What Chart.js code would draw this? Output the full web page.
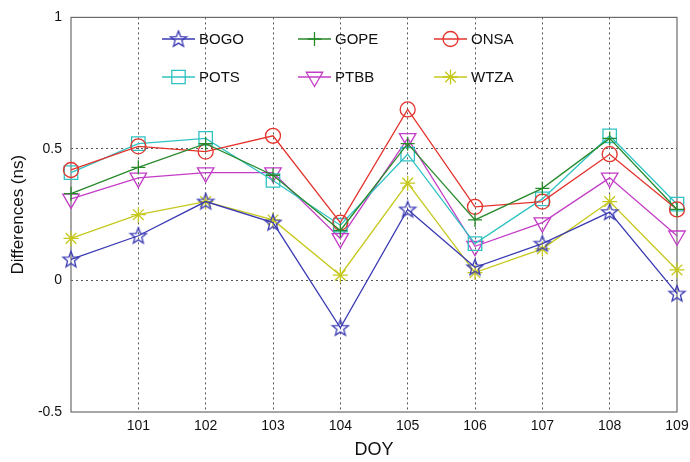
<!DOCTYPE html>
<html>
<head>
<meta charset="utf-8">
<script src="https://cdn.jsdelivr.net/npm/chart.js@4/dist/chart.umd.min.js"></script>
<style>
  html, body { margin: 0; padding: 0; background: #fff; }
  #wrap { width: 690px; height: 462px; }
</style>
</head>
<body>
<div id="wrap"><canvas id="myChart" width="690" height="462"></canvas></div>
<script>
// day of year on the x axis
var doy = [100, 101, 102, 103, 104, 105, 106, 107, 108, 109];

// differences in ns
var bogo = [0.08, 0.17, 0.30, 0.22, -0.18, 0.27, 0.05, 0.14, 0.26, -0.05];
var gope = [0.33, 0.43, 0.52, 0.40, 0.19, 0.52, 0.23, 0.35, 0.54, 0.27];
var onsa = [0.42, 0.51, 0.49, 0.55, 0.22, 0.65, 0.28, 0.30, 0.48, 0.27];
var pots = [0.41, 0.52, 0.54, 0.38, 0.21, 0.48, 0.14, 0.31, 0.55, 0.29];
var ptbb = [0.31, 0.39, 0.41, 0.41, 0.16, 0.54, 0.13, 0.22, 0.39, 0.17];
var wtza = [0.16, 0.25, 0.30, 0.23, 0.02, 0.37, 0.03, 0.12, 0.30, 0.04];

var yTicks = [-0.5, 0, 0.5, 1];
var FONT = 'Liberation Sans, Arial, sans-serif';

// pentagram marker (matlab 'p')
function makePentagram(color) {
  var c = document.createElement('canvas');
  c.width = 20; c.height = 20;
  var g = c.getContext('2d');
  g.strokeStyle = color;
  g.lineWidth = 1.3;
  g.beginPath();
  for (var i = 0; i < 10; i++) {
    var r = (i % 2 === 0) ? 8.5 : 3.6;
    var a = -Math.PI / 2 + i * Math.PI / 5;
    var px = 10 + r * Math.cos(a), py = 10.5 + r * Math.sin(a);
    if (i === 0) g.moveTo(px, py); else g.lineTo(px, py);
  }
  g.closePath();
  g.stroke();
  return c;
}

function pts(arr) {
  return doy.map(function (d, i) { return { x: d, y: arr[i] }; });
}

function series(label, arr, color, style, radius, rotation) {
  return {
    label: label,
    data: pts(arr),
    borderColor: color,
    backgroundColor: 'rgba(0,0,0,0)',
    borderWidth: 1.3,
    pointStyle: style,
    pointRadius: radius,
    pointHoverRadius: radius,
    pointRotation: rotation || 0,
    pointBorderColor: color,
    pointBackgroundColor: 'rgba(0,0,0,0)',
    pointBorderWidth: 1.3,
    tension: 0,
    clip: false
  };
}

var datasets = [
  series('BOGO', bogo, '#3a3ab4', makePentagram('#3a3ab4'), 9),
  series('GOPE', gope, '#26892a', 'cross', 7),
  series('ONSA', onsa, '#e4332c', 'circle', 7.5),
  series('POTS', pots, '#30c2c2', 'rect', 9.5),
  series('PTBB', ptbb, '#c33cc6', 'triangle', 9.5, 180),
  series('WTZA', wtza, '#c6c81c', 'star', 7.5)
];

// legend inside the axes, 3 columns x 2 rows
var legendCols = [162, 298, 434];
var legendRows = [39, 77];

var framePlugin = {
  id: 'frame',
  beforeDraw: function (chart) {
    var ctx = chart.ctx;
    ctx.save();
    ctx.fillStyle = '#fff';
    ctx.fillRect(0, 0, chart.width, chart.height);
    ctx.restore();
  },
  beforeDatasetsDraw: function (chart) {
    var a = chart.chartArea, ctx = chart.ctx;
    ctx.save();
    ctx.strokeStyle = '#6b6b6b';
    ctx.lineWidth = 1.2;
    ctx.strokeRect(a.left, a.top, a.right - a.left, a.bottom - a.top);
    ctx.restore();
  },
  afterDraw: function (chart) {
    var ctx = chart.ctx;
    ctx.save();
    chart.data.datasets.forEach(function (ds, i) {
      var x0 = legendCols[i % 3], y = legendRows[Math.floor(i / 3)];
      ctx.strokeStyle = ds.borderColor;
      ctx.lineWidth = ds.borderWidth;
      ctx.beginPath();
      ctx.moveTo(x0, y);
      ctx.lineTo(x0 + 33, y);
      ctx.stroke();
      ctx.fillStyle = 'rgba(0,0,0,0)';
      Chart.helpers.drawPoint(ctx, {
        pointStyle: ds.pointStyle,
        radius: ds.pointRadius,
        rotation: ds.pointRotation,
        borderWidth: ds.pointBorderWidth
      }, x0 + 16.5, y);
      ctx.fillStyle = '#111';
      ctx.font = '15px ' + FONT;
      ctx.textBaseline = 'middle';
      ctx.textAlign = 'left';
      ctx.fillText(ds.label, x0 + 37, y + 1);
    });
    ctx.restore();
  }
};

var ctx = document.getElementById('myChart').getContext('2d');
var myChart = new Chart(ctx, {
  type: 'line',
  data: { datasets: datasets },
  plugins: [framePlugin],
  options: {
    responsive: false,
    animation: false,
    layout: { padding: { top: 13, right: 13, left: 0, bottom: 0 } },
    plugins: {
      legend: { display: false },
      tooltip: { enabled: false }
    },
    scales: {
      x: {
        type: 'linear',
        min: 100,
        max: 109,
        afterFit: function (s) {
          s.height = 50;
          s.paddingRight = 0;
          s.paddingLeft = 0;
        },
        ticks: {
          stepSize: 1,
          padding: 6,
          color: '#111',
          font: { family: FONT, size: 14 },
          maxRotation: 0,
          callback: function (v) { return v === 100 ? '' : String(v); }
        },
        grid: {
          drawTicks: false,
          lineWidth: 1,
          color: function (c) {
            var v = c.tick && c.tick.value;
            return (v === 100 || v === 109) ? 'rgba(0,0,0,0)' : '#555';
          }
        },
        border: { display: false, dash: [2, 3] },
        title: {
          display: true,
          text: 'DOY',
          color: '#111',
          font: { family: FONT, size: 18 },
          padding: { top: 0, bottom: 1 }
        }
      },
      y: {
        type: 'linear',
        min: -0.5,
        max: 1,
        afterFit: function (s) { s.width = 71; },
        afterBuildTicks: function (s) {
          s.ticks = yTicks.map(function (v) { return { value: v }; });
        },
        ticks: {
          padding: 9,
          color: '#111',
          font: { family: FONT, size: 14 },
          callback: function (v) { return String(v); }
        },
        grid: {
          drawTicks: false,
          lineWidth: 1,
          color: function (c) {
            var v = c.tick && c.tick.value;
            return (v === -0.5 || v === 1) ? 'rgba(0,0,0,0)' : '#555';
          }
        },
        border: { display: false, dash: [2, 3] },
        title: {
          display: true,
          text: 'Differences (ns)',
          color: '#111',
          font: { family: FONT, size: 17 },
          padding: { top: 8, bottom: 0 }
        }
      }
    }
  }
});
</script>
</body>
</html>
